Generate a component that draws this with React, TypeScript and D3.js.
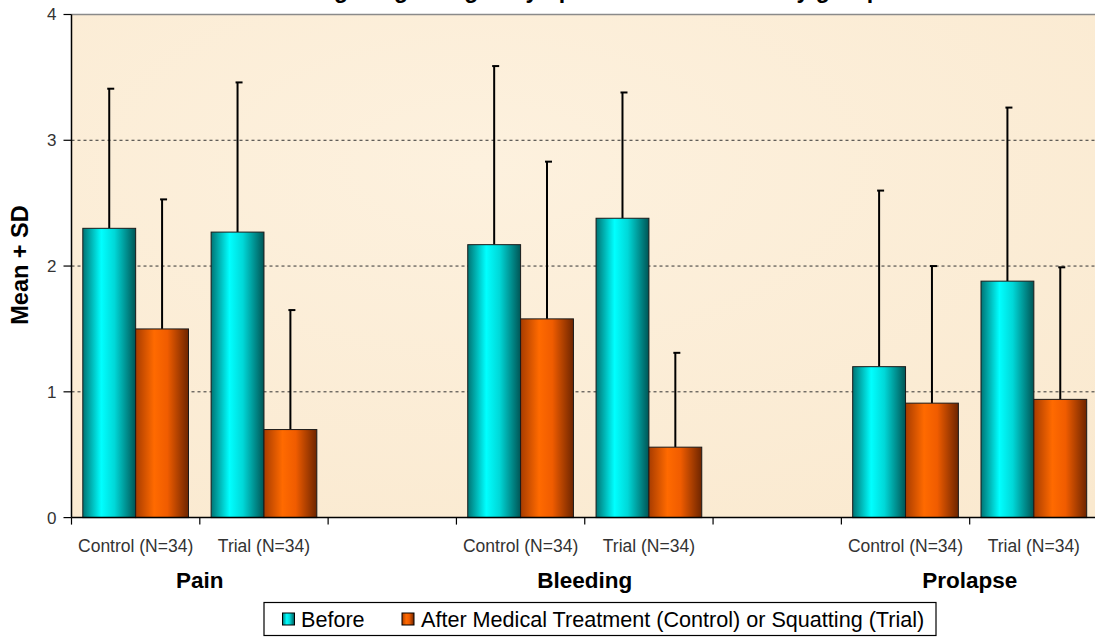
import React, { useEffect } from 'react'
import * as d3 from 'd3'

// categories
const groups = ['Pain', 'Bleeding', 'Prolapse']
const arms = ['Control (N=34)', 'Trial (N=34)']
const series = ['Before', 'After Medical Treatment (Control) or Squatting (Trial)']
const yTicks = [0, 1, 2, 3, 4]

// values per group x arm (Pain C, Pain T, Bleeding C, Bleeding T, Prolapse C, Prolapse T)
const beforeMean = [2.30, 2.27, 2.17, 2.38, 1.20, 1.88]
const beforeSD = [1.11, 1.19, 1.42, 1.00, 1.40, 1.38]
const afterMean = [1.50, 0.70, 1.58, 0.56, 0.91, 0.94]
const afterSD = [1.03, 0.95, 1.25, 0.75, 1.09, 1.05]

const title = 'Change in grading of symptoms in the two study groups'

const W = 1095
const H = 639
const m = { left: 71.5, top: 14.5, right: 1098, bottom: 517.6 }
const FONT = 'Arial, "Liberation Sans", sans-serif'

// 8 slots: Control, Trial, gap, Control, Trial, gap, Control, Trial
const slots: string[] = []
groups.forEach((g, gi) => {
  arms.forEach((a) => slots.push(g + '|' + a))
  if (gi < groups.length - 1) slots.push('gap' + gi)
})

export default function App() {
  useEffect(() => {
    document.body.style.margin = '0'
  }, [])

  const x = d3.scaleBand<string>().domain(slots).range([m.left, m.right]).padding(0)
  const x1 = d3.scaleBand<string>().domain(['b', 'a']).range([0, x.bandwidth()]).paddingInner(0).paddingOuter(0.214)
  const y = d3.scaleLinear().domain([0, 4]).range([m.bottom, m.top])

  const rows = groups.flatMap((g, gi) =>
    arms.map((a, ai) => {
      const i = gi * 2 + ai
      return { key: g + '|' + a, arm: a, bm: beforeMean[i], bs: beforeSD[i], am: afterMean[i], as: afterSD[i] }
    })
  )

  const tickXs = [...slots.map((s) => x(s) as number), m.right]

  return (
    <svg width={W} height={H} style={{ display: 'block', background: '#fff' }} fontFamily={FONT}>
      <defs>
        <linearGradient id="cyanG" x1="0" x2="1" y1="0" y2="0">
          <stop offset="0" stopColor="#007474" />
          <stop offset="0.35" stopColor="#00ffff" />
          <stop offset="0.6" stopColor="#00d8d8" />
          <stop offset="1" stopColor="#005555" />
        </linearGradient>
        <linearGradient id="orangeG" x1="0" x2="1" y1="0" y2="0">
          <stop offset="0" stopColor="#a83c00" />
          <stop offset="0.35" stopColor="#ff6a00" />
          <stop offset="0.6" stopColor="#f05c00" />
          <stop offset="1" stopColor="#6e2500" />
        </linearGradient>
        <radialGradient id="bgG" cx="0.4" cy="0.3" r="0.9">
          <stop offset="0" stopColor="#fdf1de" />
          <stop offset="1" stopColor="#fae9cf" />
        </radialGradient>
      </defs>

      {/* title, cut off at the top as in the source */}
      <text x={585} y={-2} textAnchor="middle" fontSize={23} fontWeight="bold" fill="#000">
        {title}
      </text>

      {/* plot background */}
      <rect x={m.left} y={m.top} width={m.right - m.left} height={m.bottom - m.top} fill="url(#bgG)" />
      <line x1={m.left} x2={m.right} y1={m.top} y2={m.top} stroke="#8a8a8a" strokeWidth={1.5} />

      {/* grid */}
      {yTicks.filter((t) => t > 0 && t < 4).map((t) => (
        <line key={t} x1={m.left} x2={m.right} y1={y(t)} y2={y(t)} stroke="#333" strokeWidth={1} strokeDasharray="3,3" />
      ))}

      {/* bars with plus-SD error bars */}
      {rows.map((r) => {
        const x0 = x(r.key) as number
        const bw = x1.bandwidth()
        const bx = x0 + (x1('b') as number)
        const ax = x0 + (x1('a') as number)
        return (
          <g key={r.key}>
            <line x1={bx + bw / 2} x2={bx + bw / 2} y1={y(r.bm)} y2={y(r.bm + r.bs)} stroke="#000" strokeWidth={2} />
            <line x1={bx + bw / 2 - 2} x2={bx + bw / 2 + 5} y1={y(r.bm + r.bs)} y2={y(r.bm + r.bs)} stroke="#000" strokeWidth={2} />
            <line x1={ax + bw / 2} x2={ax + bw / 2} y1={y(r.am)} y2={y(r.am + r.as)} stroke="#000" strokeWidth={2} />
            <line x1={ax + bw / 2 - 2} x2={ax + bw / 2 + 5} y1={y(r.am + r.as)} y2={y(r.am + r.as)} stroke="#000" strokeWidth={2} />
            <rect x={bx} y={y(r.bm)} width={bw} height={y(0) - y(r.bm)} fill="url(#cyanG)" stroke="#1a1a1a" strokeWidth={1} />
            <rect x={ax} y={y(r.am)} width={bw} height={y(0) - y(r.am)} fill="url(#orangeG)" stroke="#1a1a1a" strokeWidth={1} />
          </g>
        )
      })}

      {/* axes */}
      <line x1={m.left} x2={m.left} y1={m.top} y2={m.bottom} stroke="#000" strokeWidth={1.5} />
      <line x1={m.left} x2={m.right} y1={m.bottom} y2={m.bottom} stroke="#000" strokeWidth={1.5} />
      {yTicks.map((t) => (
        <g key={t}>
          <line x1={m.left - 8} x2={m.left} y1={y(t)} y2={y(t)} stroke="#000" strokeWidth={1.2} />
          <text x={m.left - 15} y={y(t)} dy="0.35em" textAnchor="end" fontSize={17} fill="#333">{t}</text>
        </g>
      ))}
      {tickXs.map((tx, i) => (
        <line key={i} x1={tx} x2={tx} y1={m.bottom} y2={m.bottom + 7} stroke="#000" strokeWidth={1.2} />
      ))}

      {/* category labels */}
      {rows.map((r) => (
        <text key={r.key} x={(x(r.key) as number) + x.bandwidth() / 2} y={552} textAnchor="middle" fontSize={17.5} fill="#333">
          {r.arm}
        </text>
      ))}
      {groups.map((g) => (
        <text key={g} x={x(g + '|' + arms[1]) as number} y={588} textAnchor="middle" fontSize={22.5} fontWeight="bold" fill="#000">
          {g}
        </text>
      ))}

      {/* y label */}
      <text transform={`translate(28,265) rotate(-90)`} textAnchor="middle" fontSize={23.5} fontWeight="bold" fill="#000">
        Mean + SD
      </text>

      {/* legend */}
      <rect x={264} y={602.5} width={672} height={33} fill="#fff" stroke="#000" strokeWidth={1.2} />
      <rect x={282.5} y={613} width={12} height={12} fill="url(#cyanG)" stroke="#000" strokeWidth={1} />
      <text x={301} y={626.5} fontSize={21.6} fill="#000">{series[0]}</text>
      <rect x={402} y={613} width={12} height={12} fill="url(#orangeG)" stroke="#000" strokeWidth={1} />
      <text x={421} y={626.5} fontSize={21.6} fill="#000">{series[1]}</text>
    </svg>
  )
}
